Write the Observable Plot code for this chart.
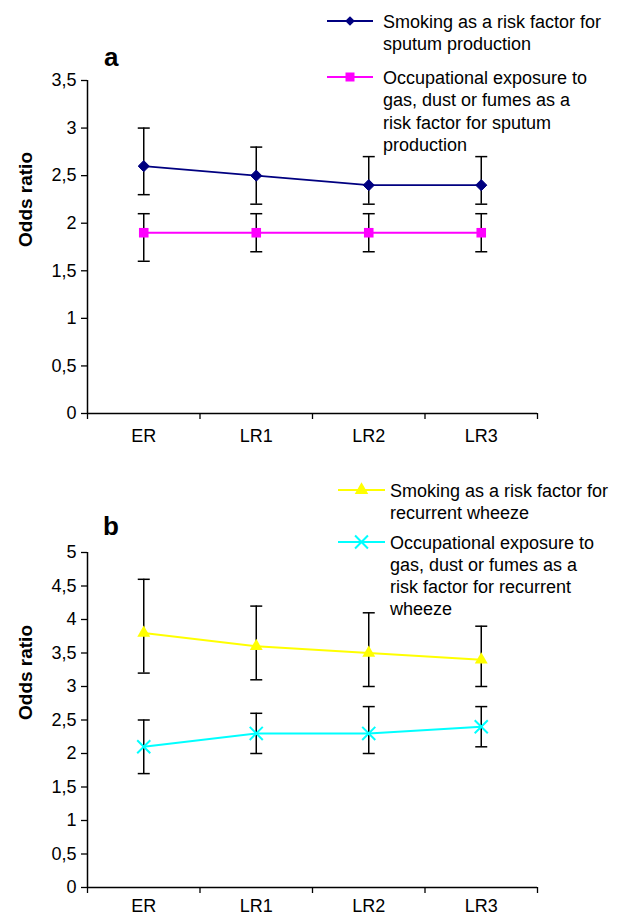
<!DOCTYPE html>
<html><head><meta charset="utf-8">
<script src="https://cdn.jsdelivr.net/npm/d3@7"></script>
<script src="https://cdn.jsdelivr.net/npm/@observablehq/plot@0.6"></script>
<style>
body{margin:0;background:#fff;}
#root{position:relative;width:628px;height:918px;font-family:"Liberation Sans",Arial,sans-serif;}
#root > svg{position:absolute;left:0;}
</style></head><body><div id="root"></div>
<script>
const categories = ["ER", "LR1", "LR2", "LR3"];

// Panel a: sputum production
const smokingSputum = [2.6, 2.5, 2.4, 2.4];
const smokingSputumLow = [2.3, 2.2, 2.2, 2.2];
const smokingSputumHigh = [3.0, 2.8, 2.7, 2.7];
const occupSputum = [1.9, 1.9, 1.9, 1.9];
const occupSputumLow = [1.6, 1.7, 1.7, 1.7];
const occupSputumHigh = [2.1, 2.1, 2.1, 2.1];

// Panel b: recurrent wheeze
const smokingWheeze = [3.8, 3.6, 3.5, 3.4];
const smokingWheezeLow = [3.2, 3.1, 3.0, 3.0];
const smokingWheezeHigh = [4.6, 4.2, 4.1, 3.9];
const occupWheeze = [2.1, 2.3, 2.3, 2.4];
const occupWheezeLow = [1.7, 2.0, 2.0, 2.1];
const occupWheezeHigh = [2.5, 2.6, 2.7, 2.7];

const yTicksA = [0, 0.5, 1, 1.5, 2, 2.5, 3, 3.5];
const yTicksB = [0, 0.5, 1, 1.5, 2, 2.5, 3, 3.5, 4, 4.5, 5];

const legendA = [
  ["Smoking as a risk factor for", "sputum production"],
  ["Occupational exposure to", "gas, dust or fumes as a", "risk factor for sputum", "production"]
];
const legendB = [
  ["Smoking as a risk factor for", "recurrent wheeze"],
  ["Occupational exposure to", "gas, dust or fumes as a", "risk factor for recurrent", "wheeze"]
];

const FONT = '"Liberation Sans", Arial, sans-serif';
const rows = (v, lo, hi) => categories.map((c, i) => ({cat: c, x: i + 0.5, v: v[i], lo: lo[i], hi: hi[i]}));
const cap = {draw(ctx, size) { const w = Math.sqrt(size / Math.PI); ctx.moveTo(-w, 0); ctx.lineTo(w, 0); }};
const fmt = d => String(d).replace(".", ",");

function panel({series, yDomain, yTicks, height, marginTop, marginBottom, labelPad}) {
  const marks = [
    Plot.axisY({ticks: yTicks, tickFormat: fmt, tickSize: 6, tickPadding: 5, fontSize: 18, label: null, strokeWidth: 1.3}),
    Plot.axisX({ticks: [0, 1, 2, 3, 4], tickSize: 6, tickFormat: () => "", label: null, strokeWidth: 1.3}),
    Plot.axisX({ticks: categories.map((c, i) => i + 0.5), tickSize: 0, tickPadding: labelPad, tickFormat: d => categories[Math.floor(d)], fontSize: 18, label: null}),
    Plot.ruleY([0], {stroke: "black", strokeWidth: 1.5}),
    Plot.ruleX([0], {stroke: "black", strokeWidth: 1.5}),
    Plot.text(["Odds ratio"], {text: d => d, frameAnchor: "left", rotate: -90, dx: -62, fontWeight: "bold", fontSize: 19})
  ];
  for (const s of series) {
    const data = rows(s.v, s.lo, s.hi);
    marks.push(Plot.ruleX(data, {x: "x", y1: "lo", y2: "hi", stroke: "black", strokeWidth: 1.5}));
    marks.push(Plot.dot(data, {x: "x", y: "lo", symbol: cap, r: 6, stroke: "black", strokeWidth: 1.5}));
    marks.push(Plot.dot(data, {x: "x", y: "hi", symbol: cap, r: 6, stroke: "black", strokeWidth: 1.5}));
  }
  for (const s of series) {
    const data = rows(s.v, s.lo, s.hi);
    marks.push(Plot.line(data, {x: "x", y: "v", stroke: s.color, strokeWidth: s.lw}));
    marks.push(Plot.dot(data, {x: "x", y: "v", symbol: s.symbol, r: s.r, fill: s.fill, stroke: s.stroke, strokeWidth: s.sw}));
  }
  return Plot.plot({
    width: 628, height, marginLeft: 87, marginRight: 91, marginTop, marginBottom,
    x: {domain: [0, 4]},
    y: {domain: yDomain},
    style: {fontFamily: FONT, fontSize: "18px", color: "black", background: "transparent", overflow: "visible"},
    marks
  });
}

const seriesA = [
  {v: smokingSputum, lo: smokingSputumLow, hi: smokingSputumHigh, color: "#000080", lw: 1.6, symbol: "diamond2", r: 5, fill: "#000080", stroke: "#000080", sw: 1},
  {v: occupSputum, lo: occupSputumLow, hi: occupSputumHigh, color: "#FF00FF", lw: 2, symbol: "square", r: 5.4, fill: "#FF00FF", stroke: "none", sw: 0}
];
const seriesB = [
  {v: smokingWheeze, lo: smokingWheezeLow, hi: smokingWheezeHigh, color: "#FFFF00", lw: 2, symbol: "triangle", r: 4.8, fill: "#FFFF00", stroke: "none", sw: 0},
  {v: occupWheeze, lo: occupWheezeLow, hi: occupWheezeHigh, color: "#00FFFF", lw: 2, symbol: "times", r: 6, fill: "none", stroke: "#00FFFF", sw: 2}
];

const root = document.getElementById("root");
const a = panel({series: seriesA, yDomain: [0, 3.5], yTicks: yTicksA, height: 460, marginTop: 80, marginBottom: 47, labelPad: 16});
a.style.top = "0px";
root.appendChild(a);
const b = panel({series: seriesB, yDomain: [0, 5], yTicks: yTicksB, height: 458, marginTop: 92, marginBottom: 31, labelPad: 12});
b.style.top = "460px";
root.appendChild(b);

// Overlay: panel letters and legends
const ov = d3.select(root).append("svg").attr("width", 628).attr("height", 918)
  .style("top", "0px").style("font-family", FONT).style("pointer-events", "none");

ov.append("text").attr("x", 104).attr("y", 66).attr("font-size", 26).attr("font-weight", "bold").text("a");
ov.append("text").attr("x", 103).attr("y", 535).attr("font-size", 26).attr("font-weight", "bold").text("b");

function legendEntry(x1, x2, y, color, symbolType, size, filled, textX, lines, lineH) {
  ov.append("line").attr("x1", x1).attr("x2", x2).attr("y1", y).attr("y2", y).attr("stroke", color).attr("stroke-width", 2);
  ov.append("path").attr("d", d3.symbol(symbolType, size)()).attr("transform", `translate(${(x1 + x2) / 2},${y})`)
    .attr("fill", filled ? color : "none").attr("stroke", filled ? "none" : color).attr("stroke-width", 2);
  lines.forEach((t, i) => ov.append("text").attr("x", textX).attr("y", y + 6.5 + i * lineH).attr("font-size", 18).attr("fill", "black").text(t));
}
legendEntry(327, 373, 21, "#000080", d3.symbolDiamond2, 60, true, 383, legendA[0], 22.5);
legendEntry(327, 373, 77, "#FF00FF", d3.symbolSquare, 81, true, 383, legendA[1], 22.5);
legendEntry(338, 385, 490, "#FFFF00", d3.symbolTriangle, 80, true, 390, legendB[0], 22);
legendEntry(338, 385, 542, "#00FFFF", d3.symbolTimes, 110, false, 390, legendB[1], 22);
</script></body></html>
